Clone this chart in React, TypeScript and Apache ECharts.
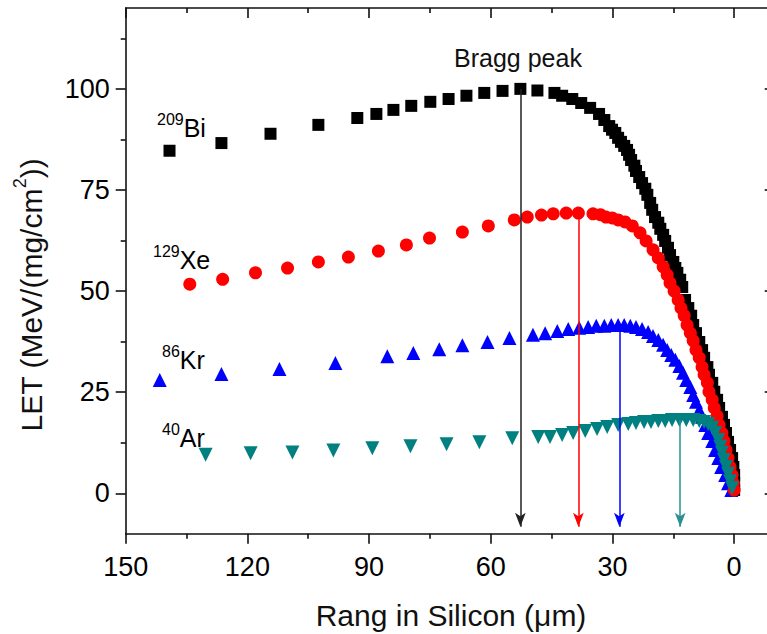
import React, { useEffect, useRef } from 'react';
import * as echarts from 'echarts';

const FONT = '"Liberation Sans", Arial, Helvetica, sans-serif';

const xTickValues = [0, 30, 60, 90, 120, 150];
const xMinorValues = [15, 45, 75, 105, 135];
const yTickValues = [0, 25, 50, 75, 100];
const yMinorValues = [12.5, 37.5, 62.5, 87.5, 112.5];

// 209Bi
const biX = [139.2, 126.4, 114.3, 102.5, 92.9, 88.2, 84.0, 79.6, 74.9, 70.4, 66.0, 61.6, 57.1, 52.7, 48.5, 44.3, 42.4, 39.9, 37.7, 35.5,
  33.3, 32.0, 30.8, 30.1, 29.3, 28.6, 27.9, 27.1, 26.4, 25.9, 25.4, 24.6, 24.2, 23.4, 22.7, 21.9, 21.4, 20.7, 20.2, 19.5, 18.7, 18.2, 17.5, 17.0, 16.3, 15.8, 15.0, 14.5, 14.0, 13.3, 12.8,
  12.1, 11.3, 10.6, 10.1, 9.4, 8.6, 7.9, 7.4, 6.6, 6.2, 5.4, 4.9, 4.2, 3.7, 3.0, 2.5, 2.0, 1.5, 1.0, 0.5, 0.2, 0.0, 0.0, 0.0];
const biY = [84.7, 86.6, 88.9, 91.1, 92.8, 93.8, 94.8, 95.8, 96.8, 97.5, 98.3, 99.0, 99.5, 100.0, 99.6, 99.0, 98.3, 97.5, 96.5, 95.3,
  93.8, 92.3, 90.8, 89.9, 89.1, 87.9, 86.9, 85.9, 84.9, 83.7, 82.4, 81.0, 79.7, 78.2, 76.7, 75.3, 73.8, 71.8, 70.1, 68.3, 66.9, 65.4, 63.9, 62.4, 60.7, 58.9, 57.2, 55.7, 54.5, 52.8, 51.0,
  47.8, 45.8, 43.9, 41.6, 39.6, 37.4, 35.4, 33.5, 31.2, 29.3, 27.3, 25.1, 23.1, 21.1, 18.9, 16.9, 14.9, 12.7, 10.7, 8.7, 6.5, 4.5, 2.5, 0.8];

// 129Xe
const xeX = [150.5, 134.2, 126.1, 118.0, 110.1, 102.5, 95.1, 87.7, 80.8, 75.1, 67.0, 60.6, 54.2, 51.0, 47.5, 44.6, 41.4, 38.4,
  34.8, 33.0, 31.6, 30.1, 28.6, 26.9, 25.1, 23.2, 21.7, 20.0, 18.7, 17.5, 16.5, 15.8, 14.8, 13.8, 13.1, 12.3, 11.6, 10.8, 10.1, 9.4,
  8.6, 7.9, 7.4, 6.6, 6.2, 5.4, 4.9, 4.2, 3.7, 3.0, 2.5, 2.0, 1.5, 1.0, 0.5, 0.2, 0.0];
const xeY = [50.3, 51.7, 52.9, 54.5, 55.7, 57.2, 58.4, 59.9, 61.4, 63.1, 64.6, 66.1, 67.6, 68.3, 68.8, 69.1, 69.3, 69.3,
  69.1, 68.9, 68.3, 68.1, 67.6, 67.1, 66.1, 64.4, 62.4, 60.2, 58.2, 56.0, 54.0, 52.0, 50.0, 47.8, 45.8, 43.9, 41.6, 39.6, 37.7, 35.4,
  33.5, 31.2, 29.3, 27.3, 25.1, 23.1, 21.1, 19.1, 16.9, 14.9, 12.9, 10.7, 8.7, 6.5, 4.5, 2.5, 0.8];

// 86Kr
const krX = [141.6, 126.4, 112.1, 98.3, 85.5, 79.1, 72.7, 67.0, 60.8, 55.4,
  49.6, 46.6, 43.6, 40.9, 38.2, 36.0, 34.0, 32.0, 30.3, 28.6, 27.1, 25.6, 24.2, 22.7, 21.2, 20.0, 18.7, 17.5, 16.5, 15.5,
  14.5, 13.5, 12.6, 11.8, 10.8, 10.1, 9.4, 8.6, 7.9, 7.1, 6.4, 5.4, 4.7, 3.9, 3.2, 2.2, 1.5, 0.7];
const krY = [28.0, 29.5, 30.7, 32.2, 33.9, 34.7, 35.6, 36.6, 37.4, 38.4,
  39.2, 39.6, 40.1, 40.6, 40.9, 41.1, 41.4, 41.4, 41.6, 41.6, 41.6, 41.4, 41.1, 40.6, 39.9, 38.9, 37.9, 36.7, 35.4, 34.2,
  33.0, 31.5, 29.8, 28.0, 26.3, 24.3, 22.6, 20.6, 18.9, 16.9, 14.9, 12.9, 10.7, 8.7, 6.5, 4.5, 2.5, 0.8];

// 40Ar
const arX = [130.3, 119.2, 108.9, 98.8, 89.2, 79.8, 70.9, 62.8, 54.7,
  48.3, 45.4, 42.4, 39.7, 36.7, 33.8, 31.3, 28.6, 26.1, 24.2, 22.2, 20.5, 18.7, 17.0, 15.3, 13.5, 11.8, 10.1, 8.6, 7.4,
  6.4, 5.4, 4.7, 3.9, 3.4, 3.0, 2.5, 2.0, 1.5, 1.0, 0.5];
const arY = [9.5, 9.9, 10.1, 10.6, 11.1, 11.6, 12.1, 12.6, 13.6,
  13.9, 13.9, 14.4, 14.9, 15.4, 15.9, 16.4, 16.9, 17.1, 17.4, 17.6, 17.6, 17.9, 17.9, 18.1, 18.1, 18.1, 18.1, 17.9, 17.6,
  17.1, 16.2, 14.9, 13.2, 11.5, 10.0, 8.2, 6.5, 4.8, 3.0, 1.3];

// Bragg peak positions (range, LET)
const braggX = [52.7, 38.4, 28.3, 13.3];
const braggY = [100.0, 69.3, 41.6, 18.1];

const X_MIN = -10;
const X_MAX = 150;
const Y_MIN = -10;
const Y_MAX = 120;

const pairs = (xs: number[], ys: number[]) => xs.map((x, i) => [x, ys[i]]);

const arrowEnd = -8.3;

function arrow(i: number, color: string) {
  return {
    silent: true,
    symbol: ['none', 'arrow'],
    symbolSize: [8, 14],
    label: { show: false },
    lineStyle: { color, width: 1.5, type: 'solid', opacity: 1 },
    emphasis: { disabled: true },
    data: [[{ coord: [braggX[i], braggY[i]] }, { coord: [braggX[i], arrowEnd] }]],
  };
}

const AX = '#111';

function baseX(gridIndex: number, position: string, major: boolean, inside: boolean, showLine: boolean, labels: boolean) {
  return {
    type: 'value',
    gridIndex,
    position,
    min: X_MIN,
    max: X_MAX,
    inverse: true,
    axisLine: { show: showLine, onZero: false, lineStyle: { color: AX, width: 1.6 } },
    axisTick: {
      show: true,
      inside,
      length: major ? 10 : 5,
      customValues: major ? xTickValues : xMinorValues,
      lineStyle: { color: AX, width: 1.6 },
    },
    axisLabel: {
      show: labels,
      customValues: xTickValues,
      margin: 20,
      fontSize: 27,
      color: '#000',
      fontFamily: FONT,
    },
    splitLine: { show: false },
    minorTick: { show: false },
  };
}

function baseY(gridIndex: number, position: string, major: boolean, inside: boolean, showLine: boolean, labels: boolean) {
  return {
    type: 'value',
    gridIndex,
    position,
    min: Y_MIN,
    max: Y_MAX,
    axisLine: { show: showLine, onZero: false, lineStyle: { color: AX, width: 1.6 } },
    axisTick: {
      show: true,
      inside,
      length: major ? 10 : 5,
      customValues: major ? yTickValues : yMinorValues,
      lineStyle: { color: AX, width: 1.6 },
    },
    axisLabel: {
      show: labels,
      customValues: yTickValues,
      margin: 16,
      fontSize: 27,
      color: '#000',
      fontFamily: FONT,
    },
    splitLine: { show: false },
    minorTick: { show: false },
  };
}

function ionLabel(x: number, y: number, mass: string, el: string) {
  return {
    type: 'text',
    x,
    y,
    silent: true,
    style: {
      text: `{s|${mass}}{m|${el}}`,
      align: 'left',
      verticalAlign: 'middle',
      textAlign: 'left',
      textVerticalAlign: 'middle',
      fill: '#000',
      rich: {
        s: { fontSize: 16, lineHeight: 16, verticalAlign: 'top', fontFamily: FONT, fill: '#000' },
        m: { fontSize: 25, lineHeight: 34, fontFamily: FONT, fill: '#000' },
      },
    },
  };
}

export default function App() {
  const ref = useRef<HTMLDivElement>(null);

  useEffect(() => {
    if (!ref.current) return;
    const chart = echarts.init(ref.current, null, { renderer: 'svg' });
    const gridRect = { left: 125.7, top: 8, width: 649, height: 525.7, containLabel: false, outerBoundsMode: 'none' };
    const marker = (color: string) => ({ color, opacity: 1 });
    chart.setOption({
      animation: false,
      backgroundColor: '#fff',
      grid: [{ ...gridRect }, { ...gridRect }],
      xAxis: [
        baseX(0, 'bottom', true, false, true, true),
        baseX(0, 'top', true, true, true, false),
        baseX(1, 'bottom', false, false, false, false),
        baseX(1, 'top', false, true, false, false),
      ],
      yAxis: [
        baseY(0, 'left', true, false, true, true),
        baseY(0, 'right', true, true, true, false),
        baseY(1, 'left', false, false, false, false),
        baseY(1, 'right', false, true, false, false),
      ],
      series: [
        {
          name: '209Bi',
          type: 'scatter',
          xAxisIndex: 0,
          yAxisIndex: 0,
          symbol: 'rect',
          symbolSize: 12,
          itemStyle: marker('#000000'),
          emphasis: { disabled: true },
          data: pairs(biX, biY),
          markLine: arrow(0, '#222222'),
        },
        {
          name: '86Kr',
          type: 'scatter',
          xAxisIndex: 0,
          yAxisIndex: 0,
          symbol: 'triangle',
          symbolSize: 14,
          itemStyle: marker('#0000ff'),
          emphasis: { disabled: true },
          data: pairs(krX, krY),
          markLine: arrow(2, '#0000ff'),
        },
        {
          name: '129Xe',
          type: 'scatter',
          xAxisIndex: 0,
          yAxisIndex: 0,
          symbol: 'circle',
          symbolSize: 13,
          itemStyle: marker('#ff0000'),
          emphasis: { disabled: true },
          data: pairs(xeX, xeY),
          markLine: arrow(1, '#ff0000'),
        },
        {
          name: '40Ar',
          type: 'scatter',
          xAxisIndex: 0,
          yAxisIndex: 0,
          symbol: 'triangle',
          symbolRotate: 180,
          symbolSize: 14,
          itemStyle: marker('#008080'),
          emphasis: { disabled: true },
          data: pairs(arX, arY),
          markLine: arrow(3, '#2a9090'),
        },
      ],
      graphic: [
        {
          type: 'text',
          x: 518,
          y: 58,
          silent: true,
          style: {
            text: 'Bragg peak',
            fontSize: 25,
            fontFamily: FONT,
            fill: '#111',
            align: 'center',
            verticalAlign: 'middle',
            textAlign: 'center',
            textVerticalAlign: 'middle',
          },
        },
        ionLabel(157, 128, '209', 'Bi'),
        ionLabel(153, 260, '129', 'Xe'),
        ionLabel(162, 360, '86', 'Kr'),
        ionLabel(162, 438, '40', 'Ar'),
        {
          type: 'text',
          x: 451,
          y: 615,
          silent: true,
          style: {
            text: 'Rang in Silicon (μm)',
            fontSize: 30,
            fontFamily: FONT,
            fill: '#111',
            align: 'center',
            verticalAlign: 'middle',
            textAlign: 'center',
            textVerticalAlign: 'middle',
          },
        },
        {
          type: 'text',
          x: 31,
          y: 295,
          rotation: Math.PI / 2,
          silent: true,
          style: {
            text: '{m|LET (MeV/(mg/cm}{s|2}{m|))}',
            align: 'center',
            verticalAlign: 'middle',
            textAlign: 'center',
            textVerticalAlign: 'middle',
            fill: '#111',
            rich: {
              m: { fontSize: 30, lineHeight: 40, fontFamily: FONT, fill: '#111' },
              s: { fontSize: 18, lineHeight: 18, verticalAlign: 'top', fontFamily: FONT, fill: '#111' },
            },
          },
        },
      ],
    });
    return () => chart.dispose();
  }, []);

  return (
    <div
      ref={ref}
      style={{ position: 'fixed', left: 0, top: 0, width: 790, height: 634 }}
    />
  );
}
